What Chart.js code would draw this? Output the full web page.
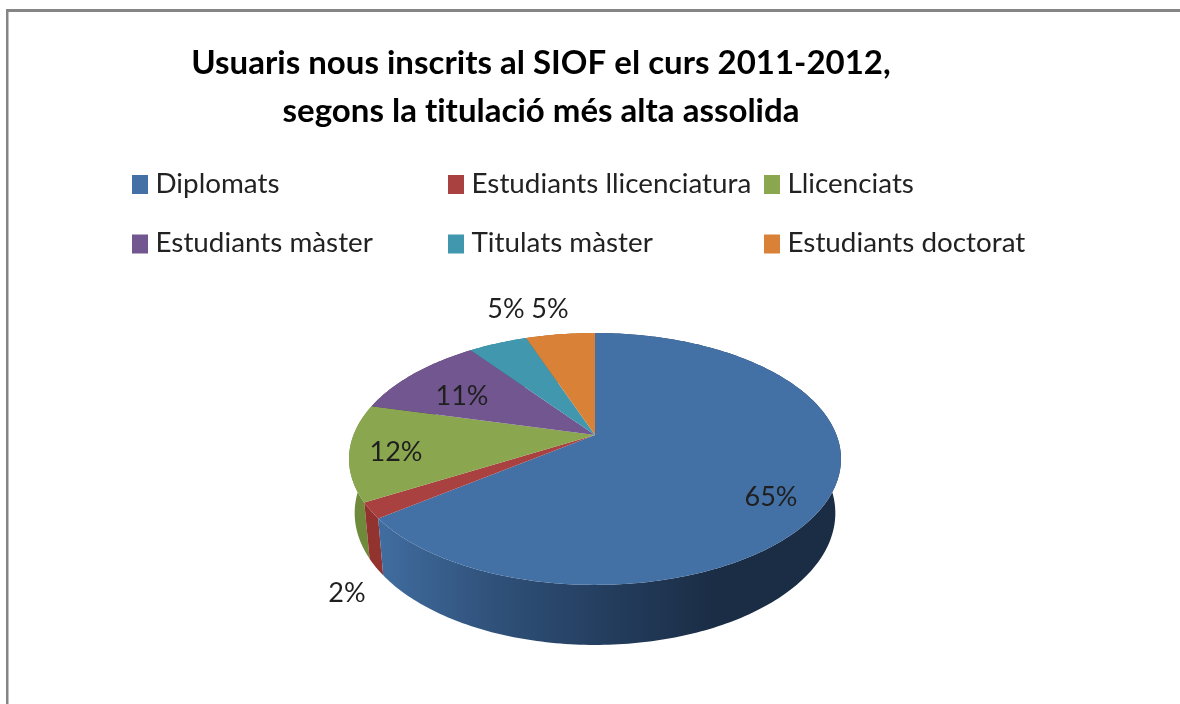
<!DOCTYPE html>
<html>
<head>
<meta charset="utf-8">
<script src="https://cdn.jsdelivr.net/npm/chart.js@4"></script>
<style>
html,body{margin:0;padding:0;background:#fff;}
canvas{display:block;}
</style>
</head>
<body>
<canvas id="c" width="1180" height="704"></canvas>
<script>
const titleLines = ["Usuaris nous inscrits al SIOF el curs 2011-2012,", "segons la titulació més alta assolida"];
const categories = ["Diplomats", "Estudiants llicenciatura", "Llicenciats", "Estudiants màster", "Titulats màster", "Estudiants doctorat"];
const values = [64.6, 2, 12.4, 10.9, 4.65, 5.45];
const percentLabels = ["65%", "2%", "12%", "11%", "5%", "5%"];
const topColors = ["#4371A6", "#A8413F", "#8AA64E", "#71568F", "#4097AE", "#DA8138"];
const wallColors = ["#2E4D73", "#93332F", "#6E8A3A", "#553F6E", "#2F7488", "#A96229"];

const FONT = "Lato, 'Noto Sans', sans-serif";
const TILT = 0.5027, PERSP = 0.19, DEPTH = 53, BASE_X = 0.977, BASE_Y = 1.047;
const labelSpots = [[771,497],[347,593],[396,452],[462,396],[506,309],[550,309]];

function project(el, theta, r, lower) {
  const ux = r * Math.sin(theta), uy = -r * Math.cos(theta);
  const d = 1 - PERSP * uy;
  const sx = lower ? BASE_X : 1, sy = lower ? BASE_Y : 1;
  return [el.x + sx * el.outerRadius * ux / d,
          el.y + sy * el.outerRadius * TILT * uy / d + (lower ? DEPTH : 0)];
}
function rimPoints(el, lower) {
  const a0 = el.startAngle + Math.PI / 2, a1 = el.endAngle + Math.PI / 2;
  const n = Math.max(4, Math.ceil((a1 - a0) * 60));
  const pts = [];
  for (let i = 0; i <= n; i++) pts.push(project(el, a0 + (a1 - a0) * i / n, 1, lower));
  return pts;
}

const pie3d = {
  id: "pie3d",
  afterLayout(chart) {
    chart.titleBlock.right -= 108;
  },
  beforeDraw(chart) {
    const ctx = chart.ctx;
    ctx.save();
    ctx.fillStyle = "#fff";
    ctx.fillRect(0, 0, chart.width, chart.height);
    ctx.fillStyle = "#858585";
    ctx.fillRect(6, 9, chart.width - 6, 3);
    ctx.fillRect(6, 9, 2.5, chart.height - 9);
    ctx.restore();
    ctx.letterSpacing = "0.01px";
  },
  beforeDatasetDraw(chart, args) {
    const ctx = chart.ctx;
    const els = args.meta.data;
    ctx.save();
    for (let i = els.length - 1; i >= 0; i--) {
      const el = els[i].getProps(["x","y","startAngle","endAngle","outerRadius"], true);
      const up = rimPoints(el, false), low = rimPoints(el, true).reverse();
      ctx.beginPath();
      up.concat(low).forEach((p, j) => j ? ctx.lineTo(p[0], p[1]) : ctx.moveTo(p[0], p[1]));
      ctx.closePath();
      let fill = wallColors[i];
      if (i === 0) {
        const g = ctx.createLinearGradient(el.x - 0.88 * el.outerRadius, 0, el.x + 0.5 * el.outerRadius, 0);
        g.addColorStop(0, "#406C9F");
        g.addColorStop(0.35, "#2F5078");
        g.addColorStop(0.7, "#233C5C");
        g.addColorStop(1, "#1B2D45");
        fill = g;
      }
      ctx.fillStyle = fill;
      ctx.fill();
    }
    els.forEach((arc, i) => {
      const el = arc.getProps(["x","y","startAngle","endAngle","outerRadius"], true);
      const pts = rimPoints(el, false);
      ctx.beginPath();
      ctx.moveTo(el.x, el.y);
      pts.forEach(p => ctx.lineTo(p[0], p[1]));
      ctx.closePath();
      ctx.fillStyle = arc.options.backgroundColor;
      ctx.fill();
    });
    ctx.restore();
    return false;
  },
  afterDatasetsDraw(chart) {
    const ctx = chart.ctx;
    ctx.save();
    ctx.fillStyle = "#1f1f1f";
    ctx.textBaseline = "middle";
    ctx.textAlign = "center";
    ctx.font = "27px " + FONT;
    percentLabels.forEach((t, i) => ctx.fillText(t, labelSpots[i][0], labelSpots[i][1]));
    ctx.textAlign = "left";
    ctx.font = "27.8px " + FONT;
    chart.data.labels.forEach((t, i) => {
      const col = i % 3, row = Math.floor(i / 3);
      const x = 132 + col * 316, y = 184 + row * 59.5;
      ctx.fillStyle = topColors[i];
      ctx.fillRect(x, y - 9, 16, 19);
      ctx.fillStyle = "#222";
      ctx.fillText(t, x + 23.5, y);
    });
    ctx.restore();
  }
};

new Chart(document.getElementById("c"), {
  type: "pie",
  data: {
    labels: categories,
    datasets: [{ data: values, backgroundColor: topColors, borderWidth: 0 }]
  },
  options: {
    responsive: false,
    animation: false,
    radius: "100%",
    layout: { padding: { left: 10, right: 0, top: 0, bottom: 27.5 } },
    plugins: {
      legend: { display: false },
      tooltip: { enabled: false },
      title: {
        display: true,
        text: titleLines,
        color: "#000",
        font: { family: FONT, size: 33, weight: "bold", lineHeight: 1.4545 },
        padding: { top: 39, bottom: 58.5 }
      }
    }
  },
  plugins: [pie3d]
});
</script>
</body>
</html>
